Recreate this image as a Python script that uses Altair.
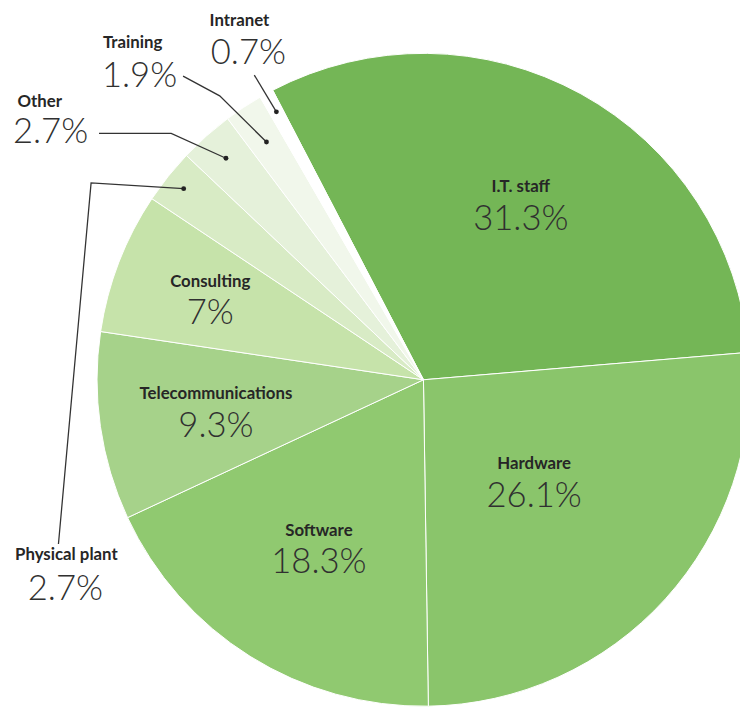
import math
import altair as alt
import pandas as pd

# ---------------- data ----------------
categories = ["I.T. staff", "Hardware", "Software", "Telecommunications", "Consulting",
              "Physical plant", "Other", "Training", "Intranet"]
shares = [31.3, 26.1, 18.3, 9.3, 7, 2.7, 2.7, 1.9, 0.7]
colors = ["#74b656", "#8ac56b", "#90c970", "#a6d28a", "#c6e3aa",
          "#d8ebc5", "#e5f1da", "#f1f7eb", "#ffffff"]

# ---------------- layout (styling, not data) ----------------
W, H = 740, 702
CX, CY, R = 420, 372, 330
START = math.radians(-27.5)
TAU = 2 * math.pi
inner_label_radius = {"I.T. staff": 204, "Hardware": 151, "Software": 199,
                      "Telecommunications": 212, "Consulting": 231}
outer_layout = {
    "Intranet": dict(name=(234, 9), pct=(243, 42), path=[(249, 64)], r=309),
    "Training": dict(name=(126, 32), pct=(133, 65), path=[(177, 65), (214, 85)], r=288),
    "Other": dict(name=(32, 91), pct=(43, 122), path=[(92, 123), (165, 123)], r=300),
    "Physical plant": dict(name=(59, 549), pct=(58, 584), path=[(51, 538), (84, 173)], r=310),
}
NAME_FONT = dict(font="Lato", fontSize=17, fontWeight="bold", color="#262626")
PCT_FONT = dict(font="Lato", fontSize=35, fontWeight=300, color="#303030")

total = sum(shares)
pct_text = [f"{v:g}%" for v in shares]

df = pd.DataFrame({
    "category": categories,
    "value": shares,
    "idx": list(range(len(categories))),
    "name_in": [c if c in inner_label_radius else "" for c in categories],
    "pct_in": [p if c in inner_label_radius else "" for c, p in zip(categories, pct_text)],
    "lr": [inner_label_radius.get(c, 0) for c in categories],
})

theta_scale = alt.Scale(domain=[0, total], range=[TAU + START, 2 * TAU + START])
order = alt.Order("idx:Q")

arcs = alt.Chart(df).mark_arc(radius=R, stroke="white", strokeWidth=1).encode(
    theta=alt.Theta("value:Q", stack=True, scale=theta_scale),
    order=order,
    color=alt.Color("category:N", sort=categories,
                    scale=alt.Scale(domain=categories, range=colors), legend=None),
    x=alt.value(CX), y=alt.value(CY),
)

# label angle = middle of each slice, computed from the cumulative shares
label_base = alt.Chart(df).transform_window(
    cum="sum(value)", sort=[alt.SortField("idx", order="ascending")],
    frame=[None, 0]
).transform_calculate(mid="datum.cum - datum.value / 2")

names_in = label_base.mark_text(align="center", baseline="middle", dy=-16, **NAME_FONT).encode(
    theta=alt.Theta("mid:Q", stack=None, scale=theta_scale),
    radius=alt.Radius("lr:Q", scale=None),
    text="name_in:N",
    x=alt.value(CX), y=alt.value(CY),
)
pcts_in = label_base.mark_text(align="center", baseline="middle", dy=16, **PCT_FONT).encode(
    theta=alt.Theta("mid:Q", stack=None, scale=theta_scale),
    radius=alt.Radius("lr:Q", scale=None),
    text="pct_in:N",
    x=alt.value(CX), y=alt.value(CY),
)

# outer labels with leader lines; the dot sits at each slice's mid-angle
cum = 0.0
mid_angle = {}
for c, v in zip(categories, shares):
    mid_angle[c] = START + TAU * (cum + v / 2) / total
    cum += v

label_rows, line_rows, dot_rows = [], [], []
for c, lay in outer_layout.items():
    p = pct_text[categories.index(c)]
    label_rows.append({"t": c, "x": lay["name"][0], "y": lay["name"][1], "kind": "name"})
    label_rows.append({"t": p, "x": lay["pct"][0], "y": lay["pct"][1], "kind": "pct"})
    a = mid_angle[c]
    dx, dy = CX + lay["r"] * math.sin(a), CY - lay["r"] * math.cos(a)
    pts = lay["path"] + [(dx, dy)]
    for k, (px, py) in enumerate(pts):
        line_rows.append({"g": c, "o": k, "x": px, "y": py})
    dot_rows.append({"g": c, "x": dx, "y": dy})

labels_df = pd.DataFrame(label_rows)
lines_df = pd.DataFrame(line_rows)
dots_df = pd.DataFrame(dot_rows)

outer_names = alt.Chart(labels_df).transform_filter(alt.datum.kind == "name").mark_text(
    align="center", baseline="middle", **NAME_FONT).encode(
    x=alt.X("x:Q", scale=None), y=alt.Y("y:Q", scale=None), text="t:N")
outer_pcts = alt.Chart(labels_df).transform_filter(alt.datum.kind == "pct").mark_text(
    align="center", baseline="middle", **PCT_FONT).encode(
    x=alt.X("x:Q", scale=None), y=alt.Y("y:Q", scale=None), text="t:N")

leaders = alt.Chart(lines_df).mark_line(color="#333333", strokeWidth=1.3).encode(
    x=alt.X("x:Q", scale=None), y=alt.Y("y:Q", scale=None),
    detail="g:N", order="o:Q")
dots = alt.Chart(dots_df).mark_circle(size=24, color="#222222", opacity=1).encode(
    x=alt.X("x:Q", scale=None), y=alt.Y("y:Q", scale=None))

chart = alt.layer(arcs, names_in, pcts_in, leaders, dots, outer_names, outer_pcts).properties(
    width=W, height=H, padding=0, autosize=alt.AutoSizeParams(type="none"),
    background="white",
).configure_view(stroke=None)

chart.save("out.html", embed_options={"renderer": "svg", "actions": False})
